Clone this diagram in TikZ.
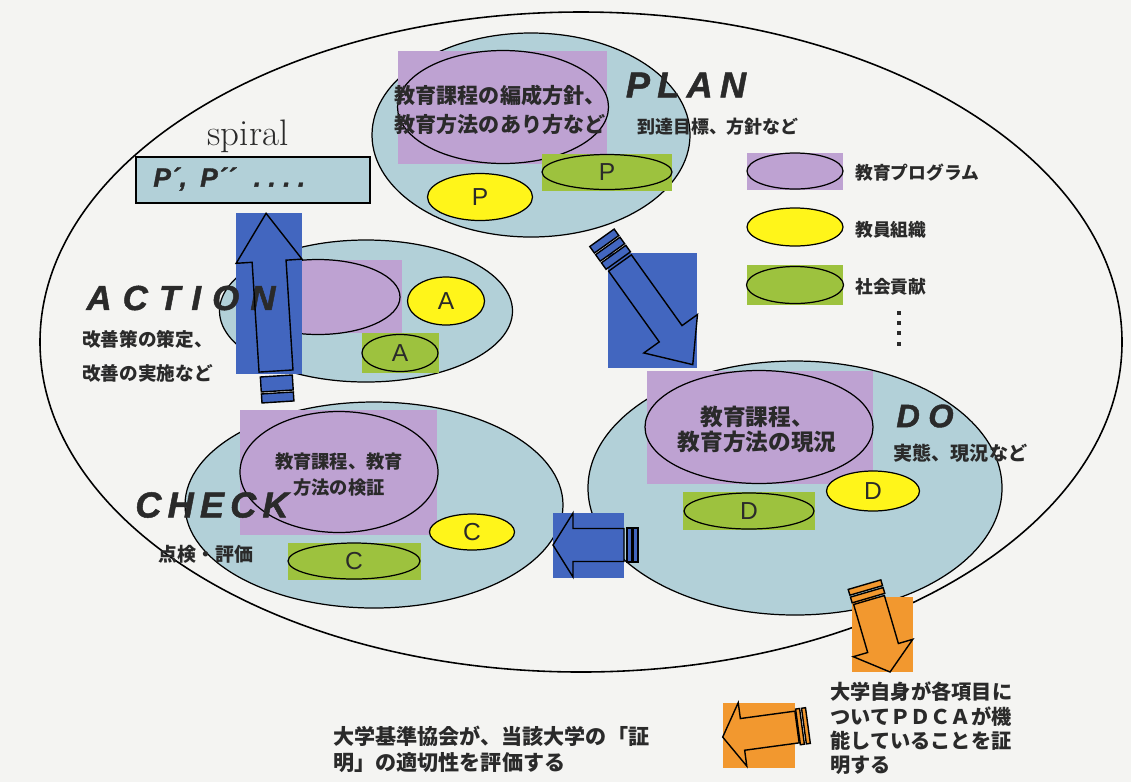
\documentclass[tikz,border=0pt]{standalone}
\usepackage{fontspec}
\usetikzlibrary{shapes.geometric}
\newfontfamily\jp{Noto Sans CJK JP}
\newfontfamily\ls{Liberation Sans}
\newfontfamily\heavy[FakeBold=1.3]{Liberation Sans Bold Italic}
\definecolor{bgc}{HTML}{F4F4F2}
\definecolor{lblue}{HTML}{B2D0D8}
\definecolor{purp}{HTML}{BEA2D2}
\definecolor{yel}{HTML}{FFF51A}
\definecolor{grn}{HTML}{9DC23E}
\definecolor{blueA}{HTML}{4266BF}
\definecolor{orng}{HTML}{F2982F}
\definecolor{txtc}{HTML}{2A2A2A}
\newdimen\px \px=0.02cm
\newcommand\fsz[1]{\fontsize{#1}{#1}\selectfont}
\newcommand\hs[1]{\hspace{#1em}}
% block arrow along +x: options, length, shaft half, head half, head length
\newcommand\blkarr[5]{\path[#1] (0,-#3) -- (#2-#5,-#3) -- (#2-#5,-#4) -- (#2,0) -- (#2-#5,#4) -- (#2-#5,#3) -- (0,#3) -- cycle;}
% stripe behind tail: options, x1, x2, half width
\newcommand\strp[4]{\path[#1] (#2,-#4) rectangle (#3,#4);}
\begin{document}
\begin{tikzpicture}[x=0.02cm,y=-0.02cm,
  ell/.style={ellipse, draw=black, line width=0.7pt, inner sep=0pt},
  t/.style={inner sep=0pt, text=txtc},
  lt/.style={t, font=\ls\fsz{14pt}},
  bigbi/.style={t, font=\heavy\fsz{20.6pt}},
  arr/.style={draw=black, line width=0.8pt, line join=miter}
]
\fill[bgc] (0,0) rectangle (1131,782);
\useasboundingbox (0,0) rectangle (1131,782);

% big ellipse
\node[ellipse, draw=black, line width=0.9pt, inner sep=0pt, minimum width=1082\px, minimum height=660\px] (big) at (581,342) {};

% ---------------- PLAN
\node[ell, fill=lblue, minimum width=318\px, minimum height=204\px] (planE) at (531,135) {};
\fill[purp] (398,51) rectangle (607,164);
\node[ell, fill=purp, minimum width=211\px, minimum height=113\px] (planPE) at (503,107) {};
\node[t, font=\jp\bfseries\fsz{12pt}] (planT1) at (500,95) {教育課程の編成方針、};
\node[t, font=\jp\bfseries\fsz{12pt}] (planT2) at (500,125) {教育方法のあり方など};
\fill[grn] (542,154) rectangle (672,191);
\node[ell, fill=grn, minimum width=130\px, minimum height=35\px] (planG) at (607,172) {};
\node[lt] (planGP) at (planG) {P};
\node[ell, fill=yel, minimum width=105\px, minimum height=47\px] (planY) at (480,197) {};
\node[lt] (planYP) at (planY) {P};
\node[bigbi] (planL) at (686,85) {P\hs{0.2}L\hs{0.2}A\hs{0.2}N};
\node[t, font=\jp\bfseries\fsz{10.2pt}, anchor=west] (planS) at (637,127) {到達目標、方針など};

% ---------------- legend
\fill[purp] (747,153) rectangle (843,190);
\node[ell, fill=purp, minimum width=96\px, minimum height=36\px] (legP) at (795,171) {};
\node[t, font=\jp\bfseries\fsz{10.1pt}, anchor=west] (legPT) at (855,173) {教育プログラム};
\node[ell, fill=yel, minimum width=96\px, minimum height=38\px] (legY) at (795,227) {};
\node[t, font=\jp\bfseries\fsz{10.1pt}, anchor=west] (legYT) at (855,230) {教員組織};
\fill[grn] (747,265) rectangle (843,305);
\node[ell, fill=grn, minimum width=97\px, minimum height=37\px] (legG) at (795,285) {};
\node[t, font=\jp\bfseries\fsz{10.1pt}, anchor=west] (legGT) at (855,287) {社会貢献};
\foreach \yy in {313,323,333,344} \fill[txtc] (897,\yy-2) rectangle (901,\yy+2);

% ---------------- spiral
\node[t, font=\fsz{21pt}] (spiral) at (248,136) {spiral};
\node[rectangle, draw=black, line width=0.6pt, fill=lblue, inner sep=0pt, minimum width=234\px, minimum height=46\px] (pbox) at (253,180) {};
\node[t, font=\heavy\fsz{15pt}, anchor=west] (ptext) at (153,179) {P´,\hs{0.5}P´´\hs{0.7}.\hs{0.28}.\hs{0.28}.\hs{0.28}.};

% ---------------- ACTION
\node[ell, fill=lblue, minimum width=293\px, minimum height=142\px] (actE) at (366,311) {};
\fill[purp] (302,260) rectangle (402,333);
\node[ell, fill=purp, minimum width=164\px, minimum height=75\px] (actPE) at (318,297) {};
\node[ell, fill=yel, minimum width=77\px, minimum height=48\px] (actY) at (446,301) {};
\node[lt] (actYA) at (actY) {A};
\fill[grn] (362,333) rectangle (439,373);
\node[ell, fill=grn, minimum width=76\px, minimum height=37\px] (actG) at (400,353) {};
\node[lt] (actGA) at (actG) {A};
\fill[blueA] (236,213) rectangle (302,374);
\begin{scope}[shift={(276,371)}, rotate=93.6]
  \blkarr{fill=blueA}{158}{17}{33}{48}
\end{scope}
\node[bigbi, font=\heavy\fsz{19.8pt}] (actL) at (181,298) {A\hs{0.32}C\hs{0.32}T\hs{0.32}I\hs{0.32}O\hs{0.32}N};
\begin{scope}[shift={(276,371)}, rotate=93.6]
  \blkarr{arr}{158}{17}{33}{48}
  \strp{arr, fill=blueA}{-5}{-20}{16}
  \strp{arr, fill=blueA}{-22}{-31}{16}
\end{scope}
\node[t, font=\jp\bfseries\fsz{10.6pt}, anchor=west] (actS1) at (82,339) {改善策の策定、};
\node[t, font=\jp\bfseries\fsz{10.6pt}, anchor=west] (actS2) at (82,373) {改善の実施など};

% ---------------- CHECK
\node[ell, fill=lblue, minimum width=378\px, minimum height=206\px] (chkE) at (374,505) {};
\fill[purp] (240,410) rectangle (437,535);
\node[ell, fill=purp, minimum width=198\px, minimum height=121\px] (chkPE) at (339,472) {};
\node[t, font=\jp\bfseries\fsz{10.4pt}] (chkT1) at (339,462) {教育課程、教育};
\node[t, font=\jp\bfseries\fsz{10.4pt}] (chkT2) at (339,488) {方法の検証};
\node[ell, fill=yel, minimum width=85\px, minimum height=36\px] (chkY) at (472,532) {};
\node[lt] (chkYC) at (chkY) {C};
\fill[grn] (288,543) rectangle (421,580);
\node[ell, fill=grn, minimum width=132\px, minimum height=36\px] (chkG) at (354,561) {};
\node[lt] (chkGC) at (chkG) {C};
\node[bigbi] (chkL) at (212,505) {C\hs{0.17}H\hs{0.17}E\hs{0.17}C\hs{0.17}K};
\node[t, font=\jp\bfseries\fsz{10.8pt}, anchor=west] (chkS) at (158,554) {点検・評価};

% ---------------- DO
\node[ell, fill=lblue, minimum width=414\px, minimum height=254\px] (doE) at (795,488) {};
\fill[purp] (647,371) rectangle (873,484);
\node[ell, fill=purp, minimum width=228\px, minimum height=113\px] (doPE) at (759,427) {};
\node[t, font=\jp\bfseries\fsz{12.9pt}] (doT1) at (757,417) {教育課程、};
\node[t, font=\jp\bfseries\fsz{12.9pt}] (doT2) at (757,442) {教育方法の現況};
\node[ell, fill=yel, minimum width=93\px, minimum height=40\px] (doY) at (873,491) {};
\node[lt] (doYD) at (doY) {D};
\fill[grn] (683,492) rectangle (815,530);
\node[ell, fill=grn, minimum width=130\px, minimum height=36\px] (doG) at (749,511) {};
\node[lt] (doGD) at (doG) {D};
\node[bigbi, font=\heavy\fsz{18.5pt}] (doL) at (925,416) {D\hs{0.26}O};
\node[t, font=\jp\bfseries\fsz{10.9pt}, anchor=west] (doS) at (893,453) {実態、現況など};

% ---------------- diagonal blue arrow (PLAN -> DO)
\fill[blueA] (608,253) rectangle (697,368);
\begin{scope}[shift={(620,263)}, rotate=-54.4]
  \blkarr{arr, fill=blueA}{125}{14}{33}{38}
  \strp{arr, fill=blueA}{-3}{-11}{15}
  \strp{arr, fill=blueA}{-13}{-21}{15}
  \strp{arr, fill=blueA}{-23}{-31}{15}
\end{scope}

% ---------------- left blue arrow (DO -> CHECK)
\fill[blueA] (553,513) rectangle (624,578);
\begin{scope}[shift={(624,545)}, rotate=180]
  \blkarr{arr, fill=blueA}{71}{16.5}{32}{20}
  \strp{arr, fill=blueA}{-3}{-8}{17}
  \strp{arr, fill=blueA}{-9}{-14}{17}
\end{scope}

% ---------------- orange arrows
\fill[orng] (852,597) rectangle (913,672);
\begin{scope}[shift={(869,600)}, rotate=-73.7]
  \blkarr{arr, fill=orng}{75}{16}{31}{25}
  \strp{arr, fill=orng}{-2}{-8}{17}
  \strp{arr, fill=orng}{-10}{-16}{17}
\end{scope}
\fill[orng] (723,703) rectangle (795,768);
\begin{scope}[shift={(797,727)}, rotate=187.7]
  \blkarr{arr, fill=orng}{75}{16}{32}{20}
  \strp{arr, fill=orng}{-1}{-5}{18}
  \strp{arr, fill=orng}{-7}{-11}{18}
\end{scope}

% ---------------- bottom texts
\node[t, font=\jp\bfseries\fsz{11.5pt}, anchor=west] (br1) at (830,692) {大学自身が各項目に};
\node[t, font=\jp\bfseries\fsz{11.5pt}, anchor=west] (br2) at (830,717) {ついてＰＤＣＡが機};
\node[t, font=\jp\bfseries\fsz{11.5pt}, anchor=west] (br3) at (830,741) {能していることを証};
\node[t, font=\jp\bfseries\fsz{11.5pt}, anchor=west] (br4) at (830,765) {明する};
\node[t, font=\jp\bfseries\fsz{12pt}, anchor=west] (bl1) at (333,736) {大学基準協会が、当該大学の「証};
\node[t, font=\jp\bfseries\fsz{12pt}, anchor=west] (bl2) at (333,763) {明」の適切性を評価する};
\end{tikzpicture}
\end{document}
